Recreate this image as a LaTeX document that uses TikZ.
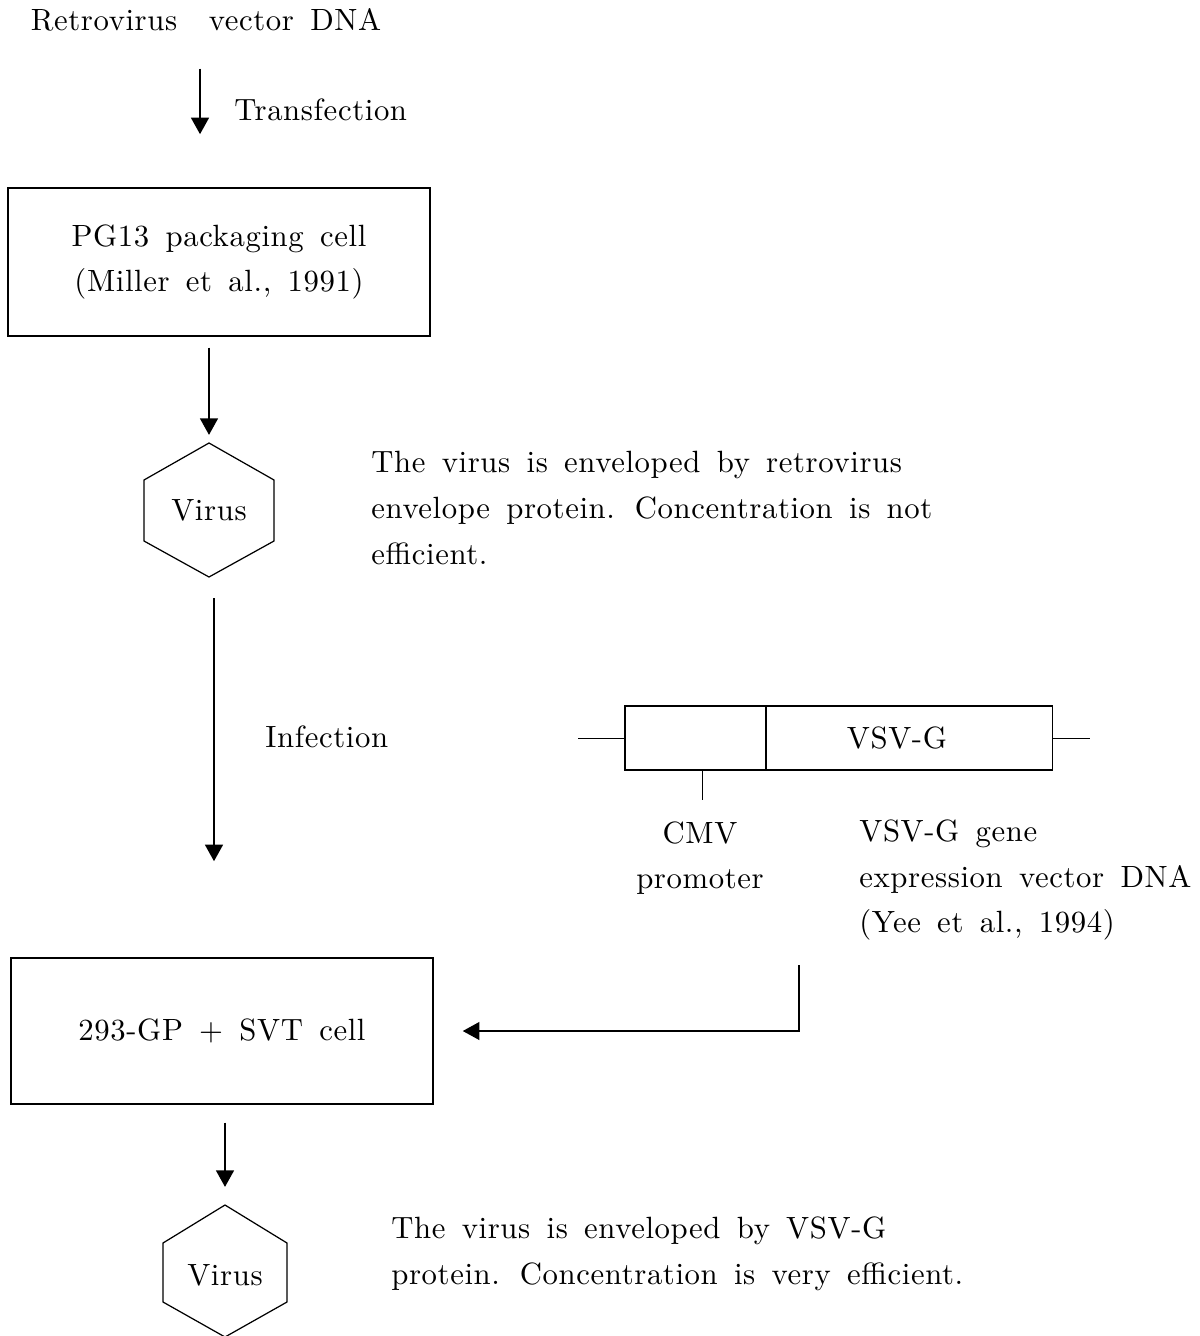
\documentclass[tikz,border=0pt]{standalone}
\usepackage{fontspec}
\setmainfont{lmroman10-regular.otf}[WordSpace=1.5, LetterSpace=2]
\usetikzlibrary{arrows.meta,positioning}

\newcommand\figfont{\fontsize{17.5}{26}\selectfont}

\tikzset{
  flow/.style={line width=1.7pt, -{Triangle[length=9.5pt,width=10pt]}},
  cellbox/.style={draw, line width=0.85pt, minimum width=8.44cm, align=center},
  segbox/.style={draw, line width=0.6pt, outer sep=0pt, minimum height=1.28cm},
  hexline/.style={line width=0.7pt},
  thinline/.style={line width=0.5pt},
}

\begin{document}
\begin{tikzpicture}[x=0.02cm, y=-0.02cm, font=\figfont, inner sep=0pt]
\useasboundingbox (0,0) rectangle (1200,1336);

% vector DNA into packaging cell
\node (vecdna) at (206,20) {Retrovirus\enspace\ vector DNA};
\node[cellbox, minimum height=2.96cm] (pg13) at (219,262) {PG13 packaging cell\\(Miller et al., 1991)};
\node[anchor=west] (transf) at (234,110) {Transfection};
\draw[flow, shorten <=0.74cm, shorten >=1.06cm] ([xshift=-0.12cm]vecdna.south) -- ([xshift=-0.12cm]vecdna.south |- pg13.north);

% first virus
\node (virus1) at (209,510) {Virus};
\draw[hexline] (virus1) +(0,-67) coordinate (v1top) -- +(65,-30) -- +(65,31) -- +(0,67) coordinate (v1bot) -- +(-65,31) -- +(-65,-30) -- cycle;
\draw[flow, shorten <=0.22cm, shorten >=0.16cm] (pg13.south -| v1top) -- (v1top);
\node[anchor=west, align=left] (note1) at (371,508) {The virus is enveloped by retrovirus\\envelope protein. Concentration is not\\efficient.};

% infection
\node[cellbox, minimum height=2.92cm] (cell293) at (222,1031) {293-GP + SVT cell};
\draw[flow, shorten <=0.42cm, shorten >=1.92cm] ([xshift=0.1cm]v1bot) -- ([xshift=0.1cm]v1bot |- cell293.north);
\node[anchor=west] (infect) at (265,737) {Infection};

% VSV-G expression vector
\node[segbox, minimum width=2.82cm] (cmvseg) at (695.5,738) {};
\node[segbox, minimum width=5.74cm, right=0pt of cmvseg] (vsvg) {VSV-G\hspace*{0.5cm}};
\draw[thinline] (cmvseg.west) -- ++(-47,0);
\draw[thinline] (vsvg.east) -- ++(37,0);
\draw[thinline] ([xshift=0.13cm]cmvseg.south) -- ++(0,30);
\node[align=center] (cmv) at (700,858) {CMV\\promoter};
\node[anchor=west, align=left] (vsvnote) at (859,880) {VSV-G gene\\expression vector DNA\\(Yee et al., 1994)};
\coordinate (vsvdrop) at (799,965);
\draw[flow, line width=1.4pt, shorten >=0.58cm] (vsvdrop) |- (cell293.east);

% second virus
\node (virus2) at (225,1275) {Virus};
\draw[hexline] (virus2) +(0,-70) coordinate (v2top) -- +(62,-32) -- +(62,27) -- +(0,62) -- +(-62,27) -- +(-62,-32) -- cycle;
\draw[flow, shorten <=0.36cm, shorten >=0.36cm] (cell293.south -| v2top) -- (v2top);
\node[anchor=west, align=left] (note2) at (391,1254) {The virus is enveloped by VSV-G\\protein. Concentration is very efficient.};
\end{tikzpicture}
\end{document}
